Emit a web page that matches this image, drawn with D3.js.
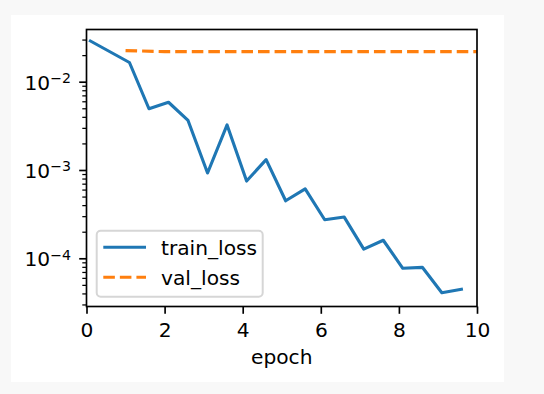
<!DOCTYPE html>
<html>
<head>
<meta charset="utf-8">
<script src="https://cdn.jsdelivr.net/npm/d3@7"></script>
<style>
  html, body { margin: 0; padding: 0; background: #f8f8f8; }
  svg { display: block; }
  text { font-family: "DejaVu Sans", sans-serif; fill: #000; }
</style>
</head>
<body>
<svg id="chart" width="544" height="394"></svg>
<script>
// ---- data ----
const trainEpochs = [0.1, 1.1, 1.6, 2.1, 2.6, 3.1, 3.6, 4.1, 4.6, 5.1, 5.6, 6.1, 6.6, 7.1, 7.6, 8.1, 8.6, 9.1, 9.6];
const trainLoss   = [0.0289, 0.0165, 0.00494, 0.00585, 0.00364, 0.000925, 0.00324, 0.00075, 0.00131, 0.000448, 0.00061, 0.000273, 0.000293, 0.000127, 0.00016, 0.000077, 0.000079, 0.0000407, 0.0000445];
const valEpochs   = [1, 2, 3, 4, 5, 6, 7, 8, 9, 10];
const valLoss     = [0.0225, 0.0219, 0.0219, 0.0219, 0.0219, 0.0219, 0.0219, 0.0219, 0.0219, 0.0219];
const xTicks      = [0, 2, 4, 6, 8, 10];
const yMajorTicks = [1e-2, 1e-3, 1e-4];
const yMajorExp   = ["\u22122", "\u22123", "\u22124"];
const seriesNames = ["train_loss", "val_loss"];
const xLabel      = "epoch";

// ---- layout ----
const svg = d3.select("#chart");
const L = 86.5, R = 477, T = 29.5, B = 306.5;
const FS = 20.2;

svg.append("rect").attr("x", 11).attr("y", 15).attr("width", 493).attr("height", 367).attr("fill", "#fff");

const x = d3.scaleLinear().domain([0, 10]).range([L, R]);
const y = d3.scaleLog().domain([2.844e-5, 0.03901]).range([B, T]);

// clip
svg.append("defs").append("clipPath").attr("id", "clip")
  .append("rect").attr("x", L).attr("y", T).attr("width", R - L).attr("height", B - T);

const plot = svg.append("g").attr("clip-path", "url(#clip)");

const line = d3.line().x(d => x(d[0])).y(d => y(d[1]));

plot.append("path")
  .datum(trainEpochs.map((e, i) => [e, trainLoss[i]]))
  .attr("d", line)
  .attr("fill", "none").attr("stroke", "#1f77b4")
  .attr("stroke-width", 3.125).attr("stroke-linejoin", "round").attr("stroke-linecap", "square");

plot.append("path")
  .datum(valEpochs.map((e, i) => [e, valLoss[i]]))
  .attr("d", line)
  .attr("fill", "none").attr("stroke", "#ff7f0e")
  .attr("stroke-width", 3.125).attr("stroke-dasharray", "11.56,5")
  .attr("stroke-linejoin", "round").attr("stroke-linecap", "butt");

// axes
const xAxis = d3.axisBottom(x).tickValues(xTicks).tickSize(7.3).tickPadding(6).tickFormat(d3.format("d"));
const gx = svg.append("g").attr("transform", `translate(0,${B})`).call(xAxis);
gx.select(".domain").remove();
gx.selectAll(".tick line").attr("stroke", "#000").attr("stroke-width", 1.67);
gx.selectAll(".tick text").attr("font-size", FS).attr("font-family", "DejaVu Sans").attr("fill", "#000")
  .attr("dy", null).attr("y", 336.5 - B).attr("dominant-baseline", "alphabetic");

// y minor ticks
const [ymin, ymax] = y.domain();
const minor = [];
for (let k = -6; k <= 0; k++) {
  for (let m = 2; m <= 9; m++) {
    const v = m * Math.pow(10, k);
    if (v >= ymin && v <= ymax) minor.push(v);
  }
}
const yMinorAxis = d3.axisLeft(y).tickValues(minor).tickSize(4.2).tickFormat("");
const gym = svg.append("g").attr("transform", `translate(${L},0)`).call(yMinorAxis);
gym.select(".domain").remove();
gym.selectAll(".tick line").attr("stroke", "#000").attr("stroke-width", 1.25);

const yAxis = d3.axisLeft(y).tickValues(yMajorTicks).tickSize(7.3).tickFormat("");
const gy = svg.append("g").attr("transform", `translate(${L},0)`).call(yAxis);
gy.select(".domain").remove();
gy.selectAll(".tick line").attr("stroke", "#000").attr("stroke-width", 1.67);
gy.selectAll(".tick").each(function (d, i) {
  const t = d3.select(this).append("text")
    .attr("x", 71 - L).attr("y", 7.6).attr("text-anchor", "end")
    .attr("font-size", FS).attr("font-family", "DejaVu Sans").attr("fill", "#000");
  t.append("tspan").text("10");
  t.append("tspan").attr("dy", -6.6).attr("font-size", FS * 0.7).text(yMajorExp[i]);
});

// spines
svg.append("rect").attr("x", L).attr("y", T).attr("width", R - L).attr("height", B - T)
  .attr("fill", "none").attr("stroke", "#000").attr("stroke-width", 1.67);

// x label
svg.append("text").attr("x", (L + R) / 2).attr("y", 363.5).attr("text-anchor", "middle")
  .attr("font-size", FS).text(xLabel);

// legend
const lg = svg.append("g");
lg.append("rect").attr("x", 96.7).attr("y", 230.7).attr("width", 166).attr("height", 66)
  .attr("rx", 4).attr("fill", "#fff").attr("fill-opacity", 0.8)
  .attr("stroke", "#d6d6d6").attr("stroke-width", 2);
const legendColors = ["#1f77b4", "#ff7f0e"];
const legendDash = [null, "11.56,5"];
const legendY = [247.3, 277.3];
seriesNames.forEach((name, i) => {
  lg.append("line").attr("x1", 103.3).attr("x2", 146).attr("y1", legendY[i]).attr("y2", legendY[i])
    .attr("stroke", legendColors[i]).attr("stroke-width", 3.125)
    .attr("stroke-dasharray", legendDash[i]);
  lg.append("text").attr("x", 161).attr("y", legendY[i] + 7.3).attr("font-size", FS).text(name);
});
</script>
</body>
</html>
